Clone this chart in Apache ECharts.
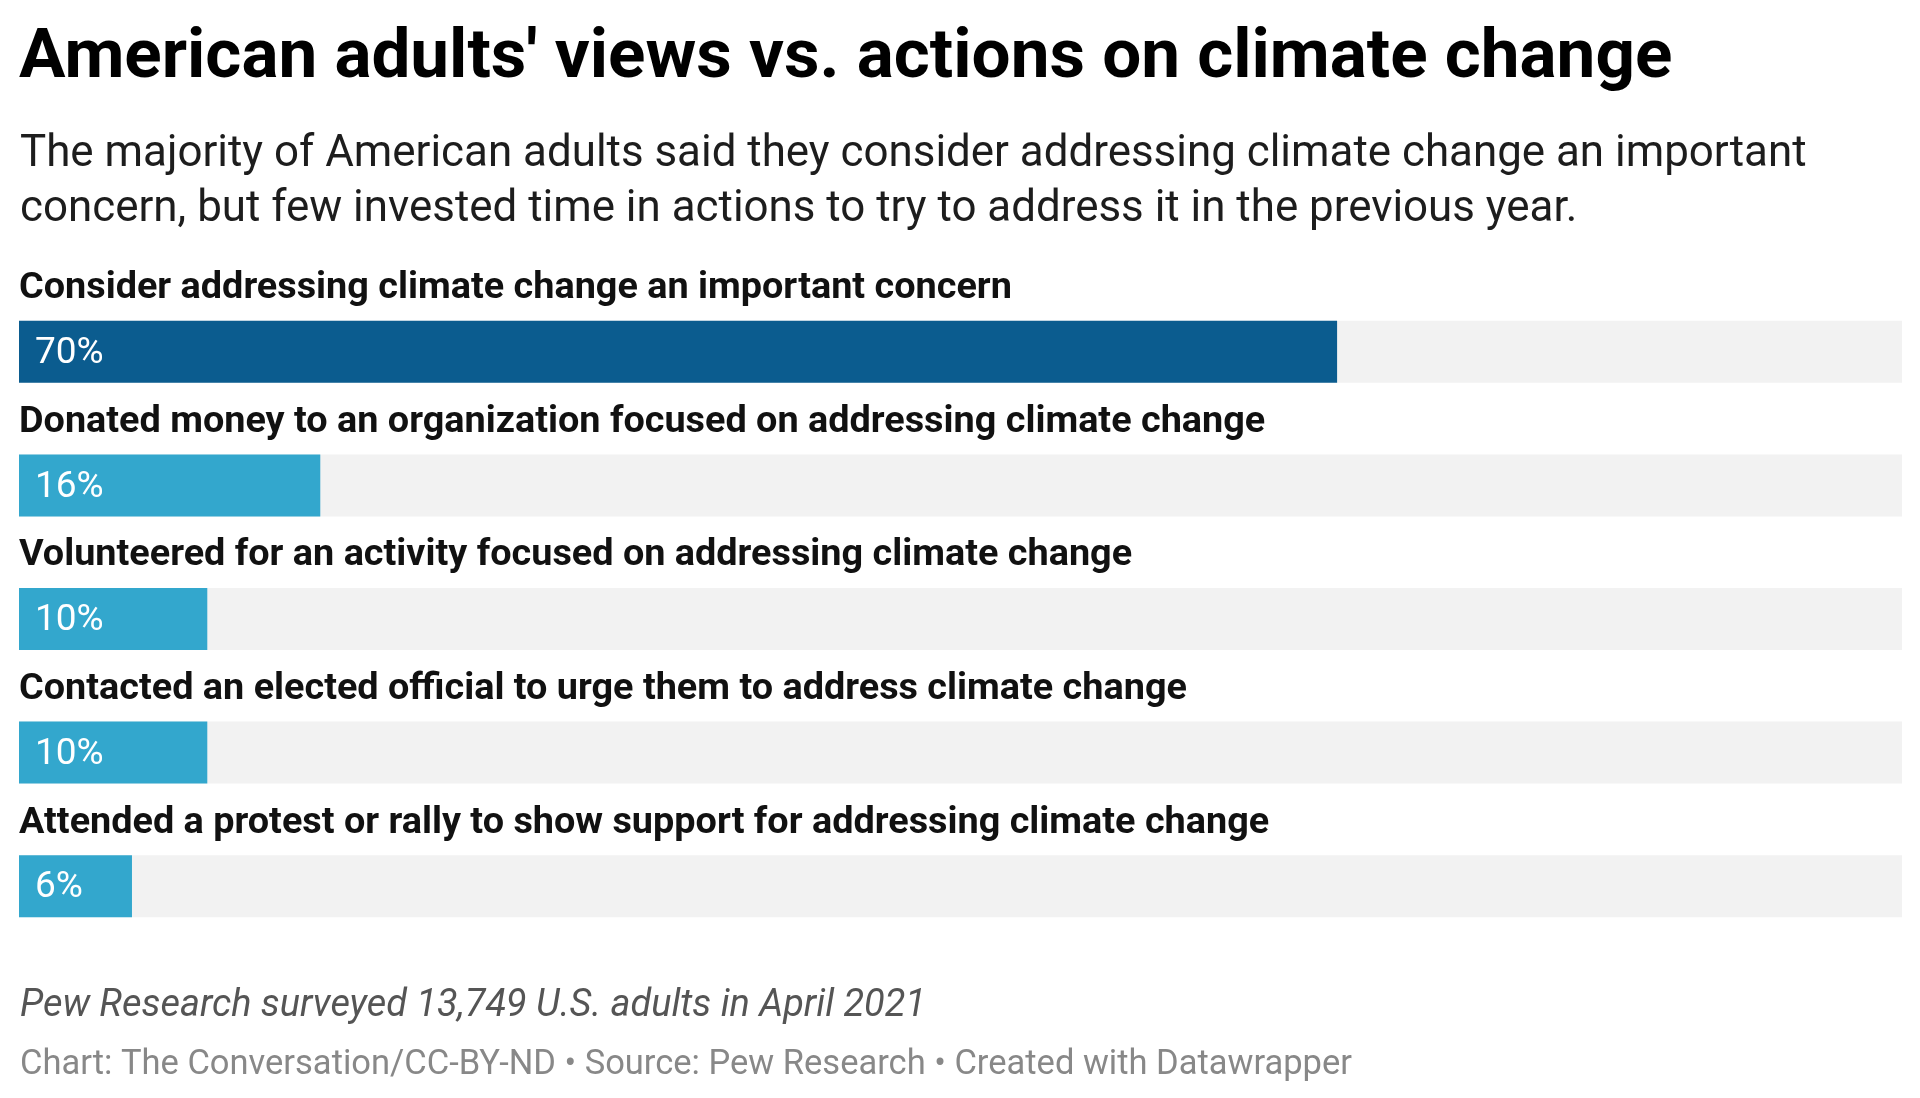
<!DOCTYPE html>
<html>
<head>
<meta charset="utf-8">
<script src="https://cdn.jsdelivr.net/npm/echarts@6/dist/echarts.min.js"></script>
<style>
html,body{margin:0;padding:0;background:#fff;}
#chart{width:1920px;height:1098px;}
</style>
</head>
<body>
<div id="chart"></div>
<script>
const titleText = "American adults' views vs. actions on climate change";
const subtitleText = "The majority of American adults said they consider addressing climate change an important\nconcern, but few invested time in actions to try to address it in the previous year.";
const noteText = "Pew Research surveyed 13,749 U.S. adults in April 2021";
const sourceText = "Chart: The Conversation/CC-BY-ND \u2022 Source: Pew Research \u2022 Created with Datawrapper";

const categories = [
  "Consider addressing climate change an important concern",
  "Donated money to an organization focused on addressing climate change",
  "Volunteered for an activity focused on addressing climate change",
  "Contacted an elected official to urge them to address climate change",
  "Attended a protest or rally to show support for addressing climate change"
];
const values = [70, 16, 10, 10, 6];
const fullScale = [100, 100, 100, 100, 100];

const darkBlue = '#0b5c8f';
const lightBlue = '#33a7cd';

const chart = echarts.init(document.getElementById('chart'));
chart.setOption({
  backgroundColor: '#ffffff',
  animation: false,
  title: [
    { text: titleText, left: 14, top: 19,
      textStyle: { fontFamily: 'Roboto', fontWeight: 'bold', fontSize: 69.2, color: '#000', lineHeight: 72 } },
    { text: subtitleText, left: 15, top: 123,
      textStyle: { fontFamily: 'Roboto', fontWeight: 'normal', fontSize: 43.9, color: '#1d1d1d', lineHeight: 55 } },
    { text: noteText, left: 15, top: 983,
      textStyle: { fontFamily: 'Roboto', fontStyle: 'italic', fontWeight: 'normal', fontSize: 37.9, color: '#555', lineHeight: 38 } },
    { text: sourceText, left: 15, top: 1043,
      textStyle: { fontFamily: 'Roboto', fontWeight: 'normal', fontSize: 34.5, color: '#888', lineHeight: 34 } }
  ],
  grid: { left: 19, right: 18, top: 285, height: 668, containLabel: false },
  xAxis: { type: 'value', min: 0, max: 100, show: false },
  yAxis: { type: 'category', inverse: true, data: categories, show: false },
  series: [
    {
      type: 'bar', data: fullScale, barWidth: 62, barGap: '-100%', silent: true,
      itemStyle: { color: '#f2f2f2' },
      label: {
        show: true, position: [0, -32], align: 'left', verticalAlign: 'middle',
        formatter: p => categories[p.dataIndex],
        fontFamily: 'Roboto', fontWeight: 'bold', fontSize: 37.8, color: '#111'
      },
      z: 1
    },
    {
      type: 'bar', barWidth: 62, barGap: '-100%',
      data: values.map((v, i) => ({ value: v, itemStyle: { color: i === 0 ? darkBlue : lightBlue } })),
      label: {
        show: true, position: 'insideLeft', distance: 16, offset: [0, 2],
        formatter: p => p.value + '%',
        fontFamily: 'Roboto', fontWeight: 'normal', fontSize: 37, color: '#fff'
      },
      z: 2
    }
  ]
});
</script>
</body>
</html>
